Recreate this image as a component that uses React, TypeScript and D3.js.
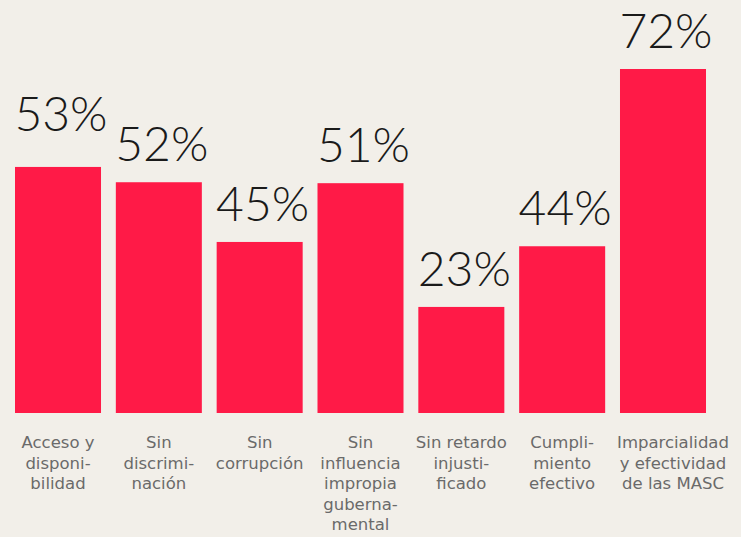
import React from "react";
import * as d3 from "d3";

const categories: string[][] = [
  ["Acceso y", "disponi-", "bilidad"],
  ["Sin", "discrimi-", "nación"],
  ["Sin", "corrupción"],
  ["Sin", "influencia", "impropia", "guberna-", "mental"],
  ["Sin retardo", "injusti-", "ficado"],
  ["Cumpli-", "miento", "efectivo"],
  ["Imparcialidad", "y efectividad", "de las MASC"],
];
// printed labels
const valueLabels: string[] = ["53%", "52%", "45%", "51%", "23%", "44%", "72%"];
// bar heights as drawn in the picture (same % units)
const barValues: number[] = [51.5, 48.3, 35.8, 48.1, 22.2, 34.9, 72];

const W = 741;
const H = 537;
const BG = "#f2efe9";
const BAR = "#ff1a47";

export default function App() {
  const ids = categories.map((_, i) => String(i));
  const x = d3
    .scaleBand<string>()
    .domain(ids)
    .range([15, 706])
    .paddingInner(0.147)
    .paddingOuter(0);
  const y = d3.scaleLinear().domain([0, 72]).range([413, 69]);
  const bw = x.bandwidth();

  return (
    <div style={{ position: "fixed", left: 0, top: 0, width: W, height: H }}>
      <svg width={W} height={H} viewBox={`0 0 ${W} ${H}`}>
        <rect x={0} y={0} width={W} height={H} fill={BG} />
        {barValues.map((v, i) => {
          const bx = x(String(i)) as number;
          return (
            <g key={i}>
              <rect x={bx} y={y(v)} width={bw} height={y(0) - y(v)} fill={BAR} />
              <text
                x={bx + bw / 2 + 3}
                y={y(v) - (i === 0 ? 36 : 21)}
                textAnchor="middle"
                fontFamily="Lato, 'Open Sans', sans-serif"
                fontWeight={300}
                fontSize={48}
                fill="#1a1a1a"
              >
                {valueLabels[i]}
              </text>
              <text
                textAnchor="middle"
                fontFamily="'DejaVu Sans', sans-serif"
                fontWeight={400}
                fontSize={16.5}
                fill="#6a6a6a"
              >
                {categories[i].map((line, j) => (
                  <tspan key={j} x={bx + bw / 2 + (i === categories.length - 1 ? 10 : 0)} y={448 + j * 20.5}>
                    {line}
                  </tspan>
                ))}
              </text>
            </g>
          );
        })}
      </svg>
    </div>
  );
}
